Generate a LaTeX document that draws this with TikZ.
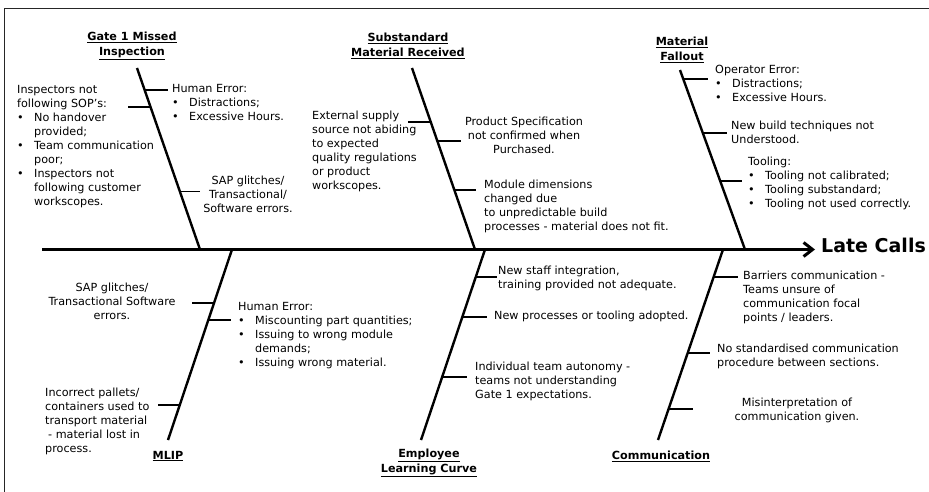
\documentclass[tikz,border=0pt]{standalone}
\usepackage{fontspec}
\setmainfont{DejaVu Sans}
\usetikzlibrary{arrows.meta}
\newcommand{\bul}{\makebox[17pt][l]{\textbullet}}
\newcommand{\ind}{\hspace*{17pt}}
\begin{document}
\begin{tikzpicture}[x=1pt,y=-1pt,
        bone/.style={line width=2.4pt},
        twig/.style={line width=1.8pt},
        cause/.style={font=\fontsize{11.2}{14}\selectfont,inner sep=0pt,align=left,anchor=north west},
        causec/.style={cause,align=center,anchor=north},
        head/.style={font=\fontsize{11.2}{15}\selectfont\bfseries,inner sep=0pt,align=center},
        effect/.style={font=\fontsize{19}{22}\selectfont\bfseries,inner ysep=0pt,inner xsep=6pt,anchor=base west}]
            \useasboundingbox (0,0) rectangle (929,492);
            \draw[line width=1.6pt,black!85] (4.5,492) -- (4.5,8.5) -- (929,8.5);
            % spine
            \coordinate (tail) at (42,249.5);
            \node[effect] (late) at (815,252) {Late Calls};
            \draw[line width=3pt,-{Straight Barb[length=9pt,width=14pt]}] (tail) -- (tail -| late.west);
            % bones above the spine
            \coordinate (gT) at (137,68);  \coordinate (gB) at (200,249.5);
            \coordinate (sT) at (412,68);  \coordinate (sB) at (475,249.5);
            \coordinate (mT) at (680,70);  \coordinate (mB) at (745,249.5);
            \node[head] (gate) at (132,46) {\underline{Gate 1 Missed}\\\underline{Inspection}};
            \node[head] (subst) at (408,46) {\underline{Substandard}\\\underline{Material Received}};
            \node[head] (fall) at (682,50) {\underline{Material}\\\underline{Fallout}};
            \draw[bone] (gT) -- (gB) coordinate[pos=0.12] (g1) coordinate[pos=0.215] (g2) coordinate[pos=0.68] (g3);
            \draw[bone] (sT) -- (sB) coordinate[pos=0.298] (s1) coordinate[pos=0.403] (s2) coordinate[pos=0.674] (s3);
            \draw[bone] (mT) -- (mB) coordinate[pos=0.05] (m1) coordinate[pos=0.351] (m2) coordinate[pos=0.618] (m3);
            % bones below the spine
            \coordinate (lT) at (232,249.5); \coordinate (lB) at (168,440);
            \coordinate (eT) at (485,249.5); \coordinate (eB) at (421,440);
            \coordinate (cT) at (723,249.5); \coordinate (cB) at (658,440);
            \node[head] (mlip) at (168,456) {\underline{MLIP}};
            \node[head] (emp) at (429,463) {\underline{Employee}\\\underline{Learning Curve}};
            \node[head] (comm) at (661,456) {\underline{Communication}};
            \draw[bone] (lT) -- (lB) coordinate[pos=0.281] (l1) coordinate[pos=0.37] (l2) coordinate[pos=0.816] (l3);
            \draw[bone] (eT) -- (eB) coordinate[pos=0.144] (e1) coordinate[pos=0.354] (e2) coordinate[pos=0.669] (e3);
            \draw[bone] (cT) -- (cB) coordinate[pos=0.144] (c1) coordinate[pos=0.543] (c2) coordinate[pos=0.837] (c3);
            \foreach \p/\l in {g1/23,g2/-23,g3/20,s1/-23,s2/24,s3/22,m1/25,m2/24,m3/22,
                               l1/-22,l2/23,l3/-22,e1/21,e2/25,e3/25,c1/24,c2/22,c3/24} {
                \draw[twig] (\p) -- ++(\l,0);
            }
            % causes
            \node[cause] (hum1) at (172,84.5) {Human Error:\\\bul Distractions;\\\bul Excessive Hours.};
            \node[cause] (insp) at (17,85.5) {Inspectors not\\following SOP's:\\\bul No handover\\\ind provided;\\\bul Team communication\\\ind poor;\\\bul Inspectors not\\\ind following customer\\\ind workscopes.};
            \node[causec] (sap1) at (248,175.5) {SAP glitches/\\Transactional/\\Software errors.};
            \node[cause] (ext) at (312,110.5) {External supply\\source not abiding\\to expected\\quality regulations\\or product\\workscopes.};
            \node[causec] (prod) at (524,116.5) {Product Specification\\not confirmed when\\Purchased.};
            \node[cause] (modd) at (484,179.5) {Module dimensions\\changed due\\to unpredictable build\\processes - material does not fit.};
            \node[cause] (oper) at (715,64.5) {Operator Error:\\\bul Distractions;\\\bul Excessive Hours.};
            \node[cause] (newb) at (731,120.5) {New build techniques not\\Understood.};
            \node[cause] (tool) at (748,156.5) {Tooling:\\\bul Tooling not calibrated;\\\bul Tooling substandard;\\\bul Tooling not used correctly.};
            \node[causec] (sap2) at (112,282.5) {SAP glitches/\\Transactional Software\\errors.};
            \node[cause] (hum2) at (238,302.5) {Human Error:\\\bul Miscounting part quantities;\\\bul Issuing to wrong module\\\ind demands;\\\bul Issuing wrong material.};
            \node[cause] (inc) at (45,387.5) {Incorrect pallets/\\containers used to\\transport material\\\hspace*{3pt}- material lost in\\process.};
            \node[cause] (staff) at (498,265.5) {New staff integration,\\training provided not adequate.};
            \node[cause] (newp) at (494,310.5) {New processes or tooling adopted.};
            \node[cause] (indiv) at (475,361.5) {Individual team autonomy -\\teams not understanding\\Gate 1 expectations.};
            \node[cause] (barr) at (743,271) {Barriers communication -\\Teams unsure of\\communication focal\\points / leaders.};
            \node[cause] (nostd) at (717,343.5) {No standardised communication\\procedure between sections.};
            \node[causec] (misi) at (797,397.5) {Misinterpretation of\\communication given.};
        \end{tikzpicture}
\end{document}
